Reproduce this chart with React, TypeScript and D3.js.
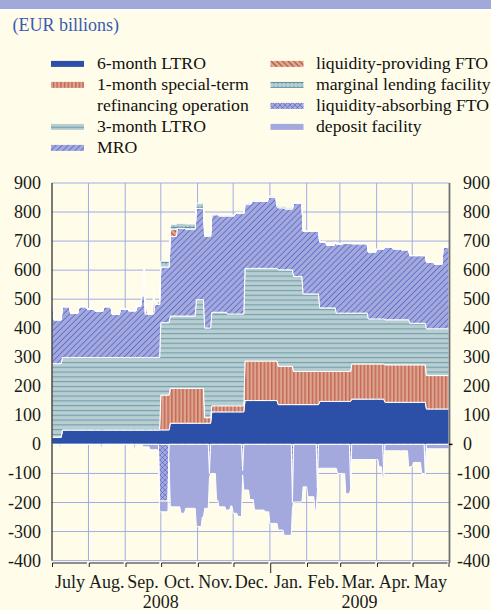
import React from "react";
import * as d3 from "d3";

type Pt = [string, number];

// EUR billions, step breakpoints (value holds from the date on)
const ltro6m: Pt[] = [
  ["2008-07-01", 25], ["2008-07-10", 50], ["2008-10-09", 73], ["2008-11-13", 112],
  ["2008-12-11", 151], ["2009-01-08", 137], ["2009-02-12", 148], ["2009-03-11", 156],
  ["2009-04-08", 145], ["2009-05-13", 122],
];
const special1m: Pt[] = [
  ["2008-07-01", 0], ["2008-10-01", 120], ["2008-11-07", 19], ["2008-11-13", 21],
  ["2008-12-11", 136], ["2009-01-08", 132], ["2009-01-21", 114], ["2009-02-12", 103],
  ["2009-03-11", 121], ["2009-04-08", 129], ["2009-05-13", 115],
];
const ltro3m: Pt[] = [
  ["2008-07-01", 253], ["2008-07-10", 249], ["2008-10-31", 305], ["2008-11-07", 309],
  ["2008-11-13", 322], ["2008-11-26", 316], ["2008-12-11", 319], ["2009-01-08", 332],
  ["2009-01-21", 327], ["2009-01-29", 267], ["2009-02-12", 219], ["2009-02-26", 201],
  ["2009-03-11", 175], ["2009-03-25", 155], ["2009-04-29", 143], ["2009-05-13", 161],
];
const mro: Pt[] = [
  ["2008-07-01", 206], ["2008-07-03", 151], ["2008-07-10", 175], ["2008-07-17", 152],
  ["2008-07-24", 175], ["2008-07-31", 167], ["2008-08-07", 159], ["2008-08-14", 175],
  ["2008-08-21", 149], ["2008-08-28", 167], ["2008-09-04", 161], ["2008-09-11", 177],
  ["2008-09-15", 213], ["2008-09-18", 150], ["2008-09-26", 183], ["2008-10-01", 192],
  ["2008-10-09", 274], ["2008-10-15", 302], ["2008-10-22", 300], ["2008-10-31", 315],
  ["2008-11-07", 316], ["2008-11-13", 336], ["2008-11-19", 332], ["2008-11-26", 338],
  ["2008-12-03", 346], ["2008-12-11", 222], ["2008-12-17", 231], ["2008-12-31", 246],
  ["2009-01-07", 214], ["2009-01-14", 210], ["2009-01-21", 253], ["2009-01-29", 216],
  ["2009-02-12", 227], ["2009-02-18", 215], ["2009-02-25", 227], ["2009-02-26", 238],
  ["2009-03-04", 240], ["2009-03-11", 239], ["2009-03-25", 230], ["2009-04-01", 240],
  ["2009-04-08", 250], ["2009-04-15", 244], ["2009-04-22", 241], ["2009-04-29", 233],
  ["2009-05-13", 230], ["2009-05-20", 222], ["2009-05-27", 281],
];
const ftoProviding: Pt[] = [
  ["2008-07-01", 0], ["2008-09-17", 100], ["2008-09-18", 0], ["2008-09-19", 35],
  ["2008-09-20", 0], ["2008-09-25", 80], ["2008-09-26", 0], ["2008-10-09", 25],
  ["2008-10-15", 0],
];
const marginalLending: Pt[] = [
  ["2008-07-01", 0], ["2008-09-29", 10], ["2008-10-01", 20], ["2008-10-09", 17],
  ["2008-11-07", 3], ["2009-01-08", 5], ["2009-01-21", 1],
];
const ftoAbsorbing: Pt[] = [
  ["2008-07-01", 0], ["2008-09-30", -195], ["2008-10-08", 0], ["2008-11-11", -100],
  ["2008-11-12", 0], ["2008-12-09", -90], ["2008-12-10", 0], ["2009-01-20", -200],
  ["2009-01-21", 0], ["2009-02-10", -150], ["2009-02-11", 0], ["2009-03-10", -140],
  ["2009-03-11", 0], ["2009-04-07", -100], ["2009-04-08", 0], ["2009-05-12", -110],
  ["2009-05-13", 0],
];
const depositFacility: Pt[] = [
  ["2008-07-01", 0], ["2008-07-08", -15], ["2008-07-09", 0], ["2008-08-12", -15],
  ["2008-08-13", 0], ["2008-09-09", -25], ["2008-09-10", 0], ["2008-09-16", -8],
  ["2008-09-22", -18], ["2008-09-29", -30], ["2008-09-30", -37], ["2008-10-08", -60],
  ["2008-10-09", -215], ["2008-10-18", -237], ["2008-10-22", -220], ["2008-10-31", -283],
  ["2008-11-05", -250], ["2008-11-07", -220], ["2008-11-11", -15], ["2008-11-12", -100],
  ["2008-11-17", -192], ["2008-11-19", -215], ["2008-11-25", -226], ["2008-11-29", -212],
  ["2008-12-01", -237], ["2008-12-05", -248], ["2008-12-09", -15], ["2008-12-10", -157],
  ["2008-12-15", -190], ["2008-12-19", -226], ["2008-12-28", -232], ["2009-01-01", -272],
  ["2009-01-08", -295], ["2009-01-13", -313], ["2009-01-20", -20], ["2009-01-21", -198],
  ["2009-01-29", -146], ["2009-02-02", -180], ["2009-02-08", -226], ["2009-02-10", -15],
  ["2009-02-11", -82], ["2009-02-27", -100], ["2009-03-06", -170], ["2009-03-10", -15],
  ["2009-03-11", -52], ["2009-04-03", -77], ["2009-04-06", -120], ["2009-04-07", -10],
  ["2009-04-08", -22], ["2009-04-28", -77], ["2009-05-02", -62], ["2009-05-09", -100],
  ["2009-05-12", -10], ["2009-05-13", -15],
];

const yTicks = [-400, -300, -200, -100, 0, 100, 200, 300, 400, 500, 600, 700, 800, 900];
const monthLabels = ["July", "Aug.", "Sep.", "Oct.", "Nov.", "Dec.", "Jan.", "Feb.", "Mar.", "Apr.", "May"];
const yearLabels: [string, string, string][] = [
  ["2008", "2008-07-01", "2009-01-01"],
  ["2009", "2009-01-01", "2009-06-01"],
];
const legendLeft: [string, string[]][] = [
  ["ltro6m", ["6-month LTRO"]],
  ["special1m", ["1-month special-term", "refinancing operation"]],
  ["ltro3m", ["3-month LTRO"]],
  ["mro", ["MRO"]],
];
const legendRight: [string, string[]][] = [
  ["ftoProviding", ["liquidity-providing FTO"]],
  ["marginalLending", ["marginal lending facility"]],
  ["ftoAbsorbing", ["liquidity-absorbing FTO"]],
  ["depositFacility", ["deposit facility"]],
];

const posKeys = ["ltro6m", "special1m", "ltro3m", "mro", "ftoProviding", "marginalLending"];
const negKeys = ["ftoAbsorbing", "depositFacility"];
const raw: Record<string, Pt[]> = {
  ltro6m, special1m, ltro3m, mro, ftoProviding, marginalLending, ftoAbsorbing, depositFacility,
};

const fills: Record<string, string> = {
  ltro6m: "#2c4fa7",
  special1m: "url(#p1m)",
  ltro3m: "url(#p3m)",
  mro: "url(#pMRO)",
  ftoProviding: "url(#pFTOp)",
  marginalLending: "url(#pML)",
  ftoAbsorbing: "url(#pFTOa)",
  depositFacility: "#a3a9dd",
};

const parse = d3.utcParse("%Y-%m-%d");
const DAY = 86400000;
const start = parse("2008-07-01")!;
const end = parse("2009-06-01")!;

function buildRows() {
  const ser: Record<string, [number, number][]> = {};
  const times = new Set<number>([start.getTime(), end.getTime()]);
  for (const k of Object.keys(raw)) {
    ser[k] = raw[k].map(([d, v]) => [parse(d)!.getTime(), v]);
    for (const [t] of ser[k]) {
      times.add(t);
      if (t - DAY >= start.getTime()) times.add(t - DAY);
    }
  }
  const sorted = Array.from(times).sort((a, b) => a - b);
  return sorted.map((t) => {
    const r: any = { date: new Date(t) };
    for (const k of Object.keys(ser)) {
      let v = 0;
      for (const [tt, vv] of ser[k]) {
        if (tt <= t) v = vv;
        else break;
      }
      r[k] = v;
    }
    return r;
  });
}

const FONT = "'Liberation Serif', 'Times New Roman', serif";

export default function App() {
  const rows = buildRows();
  const x = d3.scaleUtc().domain([start, end]).range([51.7, 449]);
  const y = d3.scaleLinear().domain([-400, 900]).range([560.6, 183]);

  const posStack = d3.stack<any>().keys(posKeys)(rows);
  const negStack = d3.stack<any>().keys(negKeys)(rows);
  const area = d3
    .area<any>()
    .x((d) => x(d.data.date))
    .y0((d) => y(d[0]))
    .y1((d) => y(d[1]))
    .curve(d3.curveLinear);

  const months = d3.utcMonth.range(start, d3.utcDay.offset(end, 1));
  const x0 = 51.7, x1 = 449;

  const swatch = (key: string, sx: number, baseline: number) => (
    <rect x={sx} y={baseline - 7.6} width={33} height={6} fill={fills[key]} />
  );

  return (
    <svg width={491} height={610} style={{ position: "absolute", left: 0, top: 0, display: "block" }}>
      <defs>
        <pattern id="p1m" width="3.7" height="4" patternUnits="userSpaceOnUse">
          <rect width="3.7" height="4" fill="#dda590" />
          <rect x="1.3" width="0.9" height="4" fill="#b3402e" />
        </pattern>
        <pattern id="p3m" width="6" height="4.8" patternUnits="userSpaceOnUse">
          <rect width="6" height="4.8" fill="#b8ced2" />
          <rect y="2" width="6" height="1" fill="#6a9ba7" />
        </pattern>
        <pattern id="pMRO" width="4.3" height="4.3" patternUnits="userSpaceOnUse" patternTransform="rotate(45)">
          <rect width="4.3" height="4.3" fill="#a3a9dd" />
          <rect x="0" width="0.7" height="4.3" fill="#4f5fc2" />
        </pattern>
        <pattern id="pFTOp" width="4" height="4" patternUnits="userSpaceOnUse" patternTransform="rotate(-45)">
          <rect width="4" height="4" fill="#dda590" />
          <rect x="0" width="0.9" height="4" fill="#b3402e" />
        </pattern>
        <pattern id="pML" width="4" height="5" patternUnits="userSpaceOnUse">
          <rect width="4" height="5" fill="#b8ced2" />
          <rect y="2" width="4" height="1" fill="#5f95a0" />
          <rect x="1.5" y="0.8" width="0.8" height="3.4" fill="#5f95a0" />
        </pattern>
        <pattern id="pFTOa" width="5" height="5" patternUnits="userSpaceOnUse">
          <rect width="5" height="5" fill="#a3a9dd" />
          <path d="M0,0L5,5M5,0L0,5" stroke="#4f5fc2" strokeWidth="0.6" />
        </pattern>
      </defs>

      <rect width={491} height={610} fill="#fffde9" />
      <rect width={491} height={9} fill="#a2a9d9" />
      <rect y={9} width={491} height={2} fill="#ffffff" />

      <text x={12.5} y={31} fontFamily={FONT} fontSize={18} fill="#3a5bb0">
        (EUR billions)
      </text>

      {/* legend */}
      <g fontFamily={FONT} fontSize={17.7} fill="#111">
        {(() => {
          const out: any[] = [];
          let row = 0;
          legendLeft.forEach(([key, lines]) => {
            const b = 68.5 + 21 * row;
            out.push(<g key={"l" + key}>{swatch(key, 51, b)}</g>);
            lines.forEach((ln, i) => {
              out.push(
                <text key={"lt" + key + i} x={97} y={68.5 + 21 * (row + i)}>
                  {ln}
                </text>
              );
            });
            row += lines.length;
          });
          legendRight.forEach(([key, lines], i) => {
            const b = 68.5 + 21 * i;
            out.push(<g key={"r" + key}>{swatch(key, 270.5, b)}</g>);
            out.push(
              <text key={"rt" + key} x={316} y={b}>
                {lines[0]}
              </text>
            );
          });
          return out;
        })()}
      </g>

      {/* grid */}
      <g stroke="#a3aae6" strokeWidth={1}>
        {yTicks.map((t) => (
          <line key={"h" + t} x1={x0} x2={x1} y1={y(t)} y2={y(t)} />
        ))}
        {months.slice(1, -1).map((m) => (
          <line key={"v" + m.getTime()} x1={x(m)} x2={x(m)} y1={y(900)} y2={y(-400)} />
        ))}
      </g>

      {/* areas */}
      <g stroke="#ffffff" strokeWidth={1} strokeLinejoin="round">
        {posStack.map((s) => (
          <path key={s.key} d={area(s) || ""} fill={fills[s.key]} />
        ))}
        {negStack.map((s) => (
          <path key={s.key} d={area(s) || ""} fill={fills[s.key]} />
        ))}
      </g>

      {/* axes */}
      <line x1={52} x2={52} y1={y(900)} y2={y(-400)} stroke="#333" strokeWidth={1.3} />
      <line x1={449.5} x2={449.5} y1={y(900)} y2={563} stroke="#707070" strokeWidth={1.8} />
      <line x1={449} x2={452.5} y1={y(0)} y2={y(0)} stroke="#000" strokeWidth={1.5} />
      <g stroke="#222" strokeWidth={1} fill="none">
        {months.slice(0, -1).map((m, i) => {
          const a = x(m) + 0.8;
          const b = x(months[i + 1]) - 1.5;
          const isJan = m.getUTCMonth() === 0;
          return <path key={"t" + i} d={`M${a},${isJan ? 573 : 567}V563H${b}`} />;
        })}
        <path d={`M${x(end)},563V567`} />
      </g>

      {/* tick labels */}
      <g fontFamily={FONT} fontSize={18} fill="#1a1a1a">
        {yTicks.map((t) => (
          <text key={"yl" + t} x={41} y={y(t) + 6} textAnchor="end">
            {t}
          </text>
        ))}
        {yTicks.map((t) => (
          <text key={"yr" + t} x={t < 0 ? 457 : 463} y={y(t) + 6}>
            {t}
          </text>
        ))}
        {monthLabels.map((lab, i) => (
          <text key={"m" + i} x={(x(months[i]) + x(months[i + 1])) / 2} y={587.5} textAnchor="middle">
            {lab}
          </text>
        ))}
        {yearLabels.map(([lab, a, b]) => (
          <text key={lab} x={(x(parse(a)!) + x(parse(b)!)) / 2} y={607.5} textAnchor="middle">
            {lab}
          </text>
        ))}
      </g>
    </svg>
  );
}
